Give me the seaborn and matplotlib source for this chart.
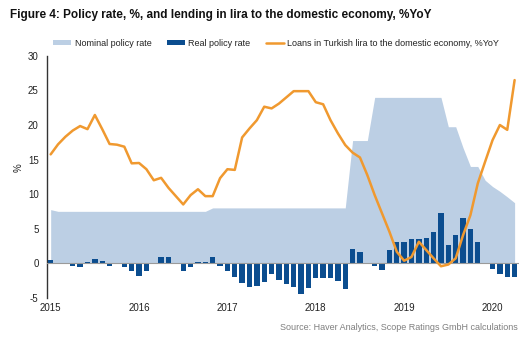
import numpy as np
import pandas as pd
import matplotlib
matplotlib.use("Agg")
import matplotlib.pyplot as plt
import seaborn as sns
from matplotlib.patches import Patch
from matplotlib.lines import Line2D

# ---- data (monthly, Jan 2015 - Apr 2020) ----
months = pd.date_range("2015-01-01", periods=64, freq="MS")

nominal_policy_rate = [
    7.75, 7.5, 7.5, 7.5, 7.5, 7.5, 7.5, 7.5, 7.5, 7.5, 7.5, 7.5,      # 2015
    7.5, 7.5, 7.5, 7.5, 7.5, 7.5, 7.5, 7.5, 7.5, 7.5, 8.0, 8.0,       # 2016
    8.0, 8.0, 8.0, 8.0, 8.0, 8.0, 8.0, 8.0, 8.0, 8.0, 8.0, 8.0,       # 2017
    8.0, 8.0, 8.0, 8.0, 8.0, 17.75, 17.75, 17.75, 24.0, 24.0, 24.0, 24.0,  # 2018
    24.0, 24.0, 24.0, 24.0, 24.0, 24.0, 19.75, 19.75, 16.7, 14.0, 14.0, 12.0,  # 2019
    11.1, 10.4, 9.6, 8.75,                                             # 2020
]

real_policy_rate = [
    0.4, 0.0, -0.15, -0.35, -0.55, 0.1, 0.6, 0.3, -0.35, 0.0, -0.5, -1.2,
    -1.9, -1.2, 0.0, 0.85, 0.85, -0.1, -1.2, -0.5, 0.1, 0.2, 0.9, -0.45,
    -1.1, -1.95, -2.9, -3.5, -3.3, -2.7, -1.6, -2.4, -3.0, -3.5, -4.4, -3.6,
    -2.1, -2.1, -2.1, -2.6, -3.7, 2.0, 1.65, -0.1, -0.4, -1.0, 1.9, 3.05,
    3.0, 3.5, 3.5, 3.7, 4.5, 7.2, 2.6, 4.1, 6.6, 5.0, 3.05, 0.05,
    -0.9, -1.5, -2.0, -2.0,
]

loans_try_yoy = [
    15.75, 17.2, 18.3, 19.2, 19.85, 19.4, 21.45, 19.4, 17.25, 17.15, 16.86, 14.45,
    14.5, 13.6, 12.0, 12.35, 10.9, 9.7, 8.5, 9.85, 10.7, 9.7, 9.7, 12.3,
    13.6, 13.5, 18.2, 19.5, 20.7, 22.65, 22.4, 23.1, 24.0, 24.9, 24.9, 24.9,
    23.3, 23.0, 20.7, 18.8, 17.1, 16.0, 15.3, 12.75, 9.85, 7.2, 4.55, 1.65,
    0.35, 0.9, 3.1, 1.9, 0.7, -0.45, -0.2, 0.7, 4.05, 6.95, 11.55, 14.7,
    17.8, 20.0, 19.3, 26.5,
]

year_labels = ["2015", "2016", "2017", "2018", "2019", "2020"]

df = pd.DataFrame({
    "month": months,
    "pos": np.arange(len(months)),
    "nominal": nominal_policy_rate,
    "real": real_policy_rate,
    "loans": loans_try_yoy,
})

# ---- style ----
sns.set_style("white")
plt.rcParams["font.family"] = ["Liberation Sans", "DejaVu Sans"]
plt.rcParams["axes.unicode_minus"] = False

c_area = "#BCCFE4"
c_bar = "#0B4D8F"
c_line = "#F0992F"
c_text = "#222222"

fig = plt.figure(figsize=(5.28, 3.41), dpi=100)
ax = fig.add_axes([0.089, 0.127, 0.894, 0.709])

ax.fill_between(df["pos"], 0, df["nominal"], color=c_area, lw=0, zorder=1)
sns.barplot(data=df, x="pos", y="real", native_scale=True, color=c_bar,
            width=0.72, saturation=1, edgecolor="none", linewidth=0,
            ax=ax, zorder=3)
ax.axhline(0, color="#9a9a9a", lw=0.8, zorder=4)
sns.lineplot(data=df, x="pos", y="loans", color=c_line, lw=1.8, ax=ax, zorder=5)

ax.set_xlim(-0.5, 63.6)
ax.set_ylim(-5, 30)
ax.set_yticks([-5, 0, 5, 10, 15, 20, 25, 30])
ax.set_xticks([0, 12, 24, 36, 48, 60])
ax.set_xticklabels(year_labels)
ax.tick_params(axis="both", length=0, labelsize=7, colors=c_text)
ax.tick_params(axis="y", pad=6)
ax.tick_params(axis="x", pad=4)
ax.set_xlabel("")
ax.set_ylabel("%", fontsize=7, color=c_text)
ax.yaxis.set_label_coords(-0.05, 0.54)

for s in ["top", "right", "bottom"]:
    ax.spines[s].set_visible(False)
ax.spines["left"].set_color("#333333")
ax.spines["left"].set_linewidth(1.0)

fig.text(0.019, 0.955, "Figure 4: Policy rate, %, and lending in lira to the domestic economy, %YoY",
         fontsize=8.5, fontweight="bold", color="#111111", va="center", ha="left")

handles = [
    Patch(facecolor=c_area, edgecolor="none"),
    Patch(facecolor=c_bar, edgecolor="none"),
    Line2D([0], [0], color=c_line, lw=1.8),
]
labels = ["Nominal policy rate", "Real policy rate",
          "Loans in Turkish lira to the domestic economy, %YoY"]
fig.legend(handles, labels, loc="center", bbox_to_anchor=(0.523, 0.873), ncol=3,
           frameon=False, fontsize=6.5, handlelength=2.0, handleheight=0.45,
           columnspacing=1.7, handletextpad=0.4, labelcolor="#222222")

fig.text(0.981, 0.04, "Source: Haver Analytics, Scope Ratings GmbH calculations",
         fontsize=6.5, color="#7f7f7f", ha="right", va="center")

fig.savefig("out.png", dpi=100)
